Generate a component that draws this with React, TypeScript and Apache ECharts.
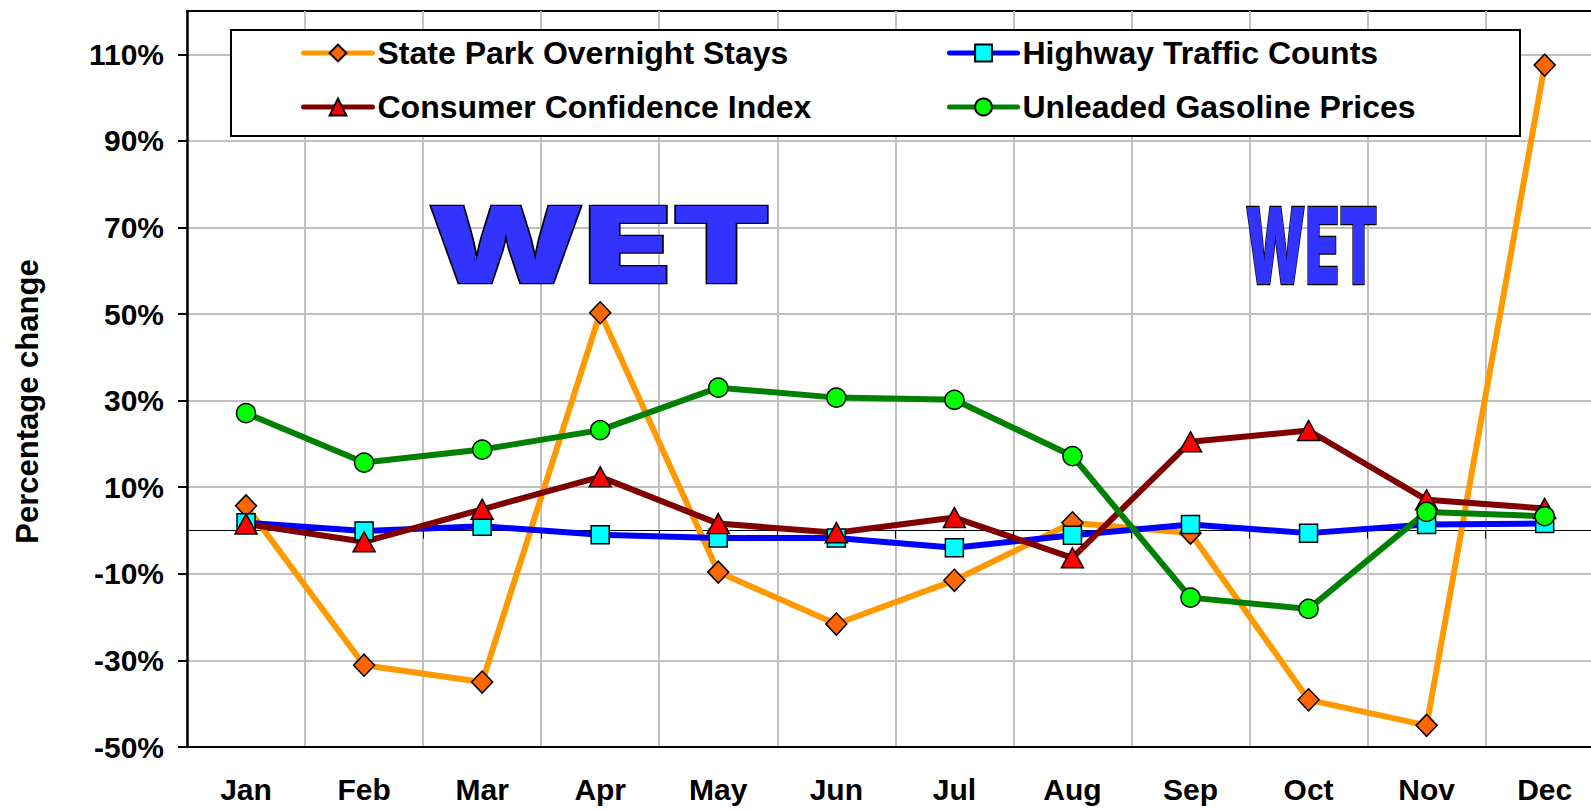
import React, { useEffect, useRef } from "react";
import * as echarts from "echarts";

const MONTHS = ["Jan", "Feb", "Mar", "Apr", "May", "Jun", "Jul", "Aug", "Sep", "Oct", "Nov", "Dec"];
const STATE_PARK = [5.7, -31.1, -35.0, 50.3, -9.6, -21.6, -11.5, 1.8, -0.6, -39.1, -45.0, 107.5];
const HIGHWAY = [1.8, -0.1, 1.0, -1.0, -1.7, -1.7, -4.0, -1.1, 1.4, -0.6, 1.4, 1.6];
const CONSUMER = [1.5, -2.6, 4.9, 12.4, 1.6, -0.5, 3.0, -6.3, 20.5, 23.1, 7.1, 5.1];
const GASOLINE = [27.1, 15.7, 18.7, 23.2, 33.0, 30.7, 30.2, 17.2, -15.5, -18.1, 4.3, 3.3];
const Y_TICKS = [-50, -30, -10, 10, 30, 50, 70, 90, 110];
const Y_MIN = -50;
const Y_MAX = 120;

const N_STATE = "State Park Overnight Stays";
const N_HIGHWAY = "Highway Traffic Counts";
const N_CONSUMER = "Consumer Confidence Index";
const N_GAS = "Unleaded Gasoline Prices";

const FONT = '"Liberation Sans", Arial, sans-serif';
const WET_FONT = 'Inter, "DejaVu Sans", sans-serif';

function wetMetrics() {
  const ctx = document.createElement("canvas").getContext("2d") as CanvasRenderingContext2D;
  ctx.font = `900 100px ${WET_FONT}`;
  ctx.textAlign = "center";
  const m = ctx.measureText("WET");
  const mE = ctx.measureText("E");
  const capH = mE.actualBoundingBoxAscent || 72;
  const fba = (m as any).fontBoundingBoxAscent || 97;
  const fbd = (m as any).fontBoundingBoxDescent || 24;
  const L = m.actualBoundingBoxLeft;
  const R = m.actualBoundingBoxRight;
  return { capH, fba, fbd, L, R, inkW: L + R || m.width };
}

function wetText(left: number, right: number, top: number, bottom: number, mt: any) {
  const capTarget = bottom - top;
  const fontSize = (capTarget / mt.capH) * 100;
  const k = fontSize / 100;
  const scaleX = (right - left) / (mt.inkW * k);
  const inkCenterOff = ((mt.R - mt.L) / 2) * k * scaleX;
  const cx = (left + right) / 2 - inkCenterOff;
  const baseline = bottom;
  const centralY = baseline - ((mt.fba - mt.fbd) / 2) * k;
  return {
    type: "text",
    x: cx,
    y: centralY,
    scaleX,
    z: 3,
    style: {
      text: "WET",
      fontFamily: WET_FONT,
      fontWeight: 900,
      fontSize,
      fill: "#3333FF",
      stroke: "#000000",
      lineWidth: 2.5,
      textAlign: "center",
      textVerticalAlign: "middle",
      align: "center",
      verticalAlign: "middle",
    },
  };
}

function lineSeries(name: string, data: number[], lineColor: string, fill: string, symbol: string, size: any) {
  return {
    name,
    type: "line",
    data,
    xAxisIndex: 0,
    symbol,
    symbolSize: size,
    lineStyle: { color: lineColor, width: 6, cap: "round", join: "round" },
    itemStyle: { color: fill, borderColor: "#000000", borderWidth: 1.5 },
    emphasis: { disabled: true },
  };
}

export default function App() {
  const ref = useRef<HTMLDivElement>(null);
  useEffect(() => {
    if (!ref.current) return;
    const chart = echarts.init(ref.current, undefined, { renderer: "svg" });
    const mt = wetMetrics();
    const legendText = { fontFamily: FONT, fontWeight: "bold", fontSize: 32, color: "#000", lineHeight: 32 };
    const legendCommon = {
      orient: "vertical",
      top: 37,
      padding: 0,
      itemHeight: 21,
      itemGap: 22,
      textStyle: legendText,
      lineStyle: { width: 5 },
      selectedMode: false,
      z: 10,
    };
    const option: any = {
      animation: false,
      backgroundColor: "#ffffff",
      grid: {
        left: 187,
        top: 11,
        width: 1416.7,
        bottom: 62,
        outerBoundsMode: "none",
        containLabel: false,
        show: true,
        borderColor: "#000000",
        borderWidth: 2,
        backgroundColor: "transparent",
      },
      xAxis: [
        {
          type: "category",
          data: MONTHS,
          position: "bottom",
          boundaryGap: true,
          axisLine: { show: true, onZero: false, lineStyle: { color: "#000", width: 2 } },
          axisTick: { show: false },
          axisLabel: { color: "#000", fontFamily: FONT, fontWeight: "bold", fontSize: 30, margin: 27, interval: 0 },
          splitLine: { show: true, interval: 0, lineStyle: { color: "#c0c0c0", width: 2 } },
        },
        {
          type: "category",
          data: MONTHS,
          position: "bottom",
          boundaryGap: true,
          axisLine: { show: true, onZero: true, lineStyle: { color: "#000", width: 1 } },
          axisTick: { show: true, interval: 0, length: 8, lineStyle: { color: "#000", width: 1 } },
          axisLabel: { show: false },
          splitLine: { show: false },
        },
      ],
      yAxis: {
        type: "value",
        min: Y_MIN,
        max: Y_MAX,
        axisLine: { show: true, lineStyle: { color: "#000", width: 2.5 } },
        axisTick: { show: true, length: 9, customValues: Y_TICKS, lineStyle: { color: "#000", width: 2 } },
        axisLabel: {
          customValues: Y_TICKS,
          formatter: (v: number) => `${v}%`,
          color: "#000",
          fontFamily: FONT,
          fontWeight: "bold",
          fontSize: 30,
          margin: 23,
        },
        splitLine: { show: true, lineStyle: { color: "#c0c0c0", width: 2 } },
      },
      legend: [
        { ...legendCommon, data: [N_STATE, N_CONSUMER], left: 301, itemWidth: 69 },
        { ...legendCommon, data: [N_HIGHWAY, N_GAS], left: 947, itemWidth: 68 },
      ],
      graphic: [
        {
          type: "rect",
          z: 5,
          shape: { x: 231, y: 30, width: 1289, height: 106 },
          style: { fill: "#ffffff", stroke: "#000000", lineWidth: 2 },
        },
        wetText(430.7, 767.3, 206.7, 284, mt),
        wetText(1246.7, 1376, 206.7, 284.3, mt),
        {
          type: "text",
          x: 27,
          y: 401.5,
          rotation: Math.PI / 2,
          z: 3,
          style: {
            text: "Percentage change",
            fontFamily: FONT,
            fontWeight: "bold",
            fontSize: 31,
            fill: "#000",
            textAlign: "center",
            textVerticalAlign: "middle",
            align: "center",
            verticalAlign: "middle",
          },
        },
      ],
      series: [
        lineSeries(N_STATE, STATE_PARK, "#FF9900", "#FF6600", "diamond", [21, 22]),
        lineSeries(N_HIGHWAY, HIGHWAY, "#0000FF", "#00FFFF", "rect", 18),
        lineSeries(N_CONSUMER, CONSUMER, "#800000", "#FF0000", "triangle", [22, 20]),
        lineSeries(N_GAS, GASOLINE, "#008000", "#00FF00", "circle", 19),
      ],
    };
    chart.setOption(option);
    return () => chart.dispose();
  }, []);
  return (
    <div
      ref={ref}
      style={{ position: "absolute", left: 0, top: 0, width: 1591, height: 809, background: "#fff" }}
    />
  );
}
